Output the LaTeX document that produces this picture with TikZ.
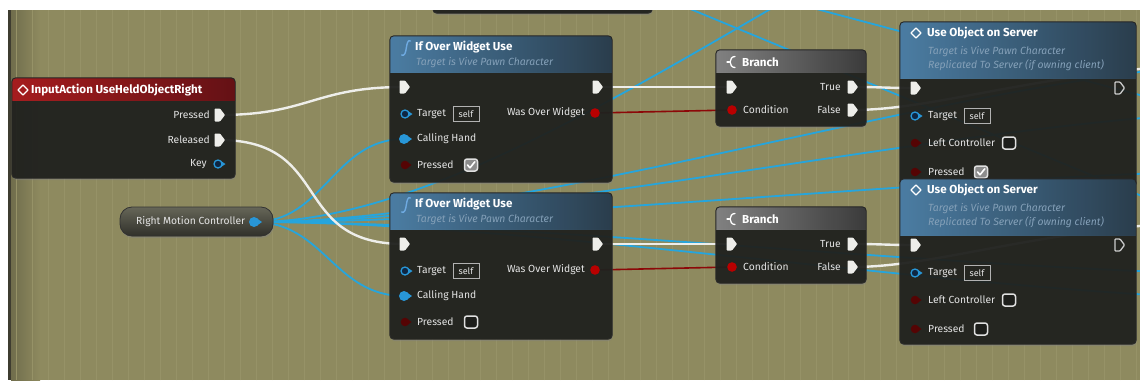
\documentclass[tikz,border=0pt]{standalone}
\usepackage{fontspec}
\setmainfont{Fira Sans}
\usetikzlibrary{calc,shadows}

\definecolor{canvas}{RGB}{142,138,95}
\definecolor{canvasdark}{RGB}{112,109,76}
\definecolor{gridc}{RGB}{150,146,103}
\definecolor{framec}{RGB}{62,60,48}
\definecolor{bodyc}{RGB}{29,30,27}
\definecolor{wireblue}{RGB}{38,165,220}
\definecolor{wirewhite}{RGB}{238,238,234}
\definecolor{wirered}{RGB}{140,8,8}
\definecolor{pinnavy}{RGB}{14,38,66}
\definecolor{pinblue}{RGB}{40,150,215}
\definecolor{boolon}{RGB}{185,0,0}
\definecolor{booloff}{RGB}{85,4,4}
\definecolor{txt}{RGB}{228,228,228}
\definecolor{subtxt}{RGB}{132,160,184}
\definecolor{fnicon}{RGB}{110,170,225}
\definecolor{blueA}{RGB}{78,130,170}
\definecolor{blueB}{RGB}{44,64,80}
\definecolor{greyA}{RGB}{135,135,135}
\definecolor{greyB}{RGB}{62,62,62}
\definecolor{redA}{RGB}{172,30,32}
\definecolor{redB}{RGB}{105,18,22}
\definecolor{pillA}{RGB}{102,102,88}
\definecolor{pillB}{RGB}{48,48,42}

\tikzset{
  bpbody/.style={fill=bodyc, fill opacity=0.92, draw=none, rounded corners=4pt,
    inner sep=0pt, drop shadow={shadow xshift=0.6pt, shadow yshift=-2pt, opacity=0.45}},
  bpedge/.style={draw=black!85, line width=0.9pt, rounded corners=4pt},
  hdrblue/.style={left color=blueA, right color=blueB},
  hdrgrey/.style={left color=greyA, right color=greyB},
  hdrred/.style={left color=redA, right color=redB},
  execwire/.style={draw=wirewhite, line width=2.4pt},
  datawire/.style={draw=wireblue, line width=1.8pt},
  boolwire/.style={draw=wirered, line width=1.6pt},
  lbl/.style={text=txt, font=\fontsize{10.3}{12}\selectfont, inner sep=0pt},
  ttl/.style={text=white, font=\bfseries\fontsize{11.6}{13}\selectfont, inner sep=0pt, anchor=west},
  sub/.style={text=subtxt, font=\itshape\fontsize{10.4}{11}\selectfont, inner sep=0pt, anchor=west},
  selfbox/.style={draw=black!30, line width=0.8pt, text=txt, font=\fontsize{9}{10}\selectfont,
    minimum width=26pt, minimum height=15pt, inner sep=0pt},
  execpin/.pic={\fill[wirewhite, rounded corners=0.8pt] (-4.5,-6.5) -- (1,-6.5) -- (6,0) -- (1,6.5) -- (-4.5,6.5) -- cycle;},
  execopen/.pic={\draw[black!20, line width=1.3pt, rounded corners=0.8pt, line join=round]
    (-4,-6) -- (1,-6) -- (5.5,0) -- (1,6) -- (-4,6) -- cycle;},
  objring/.pic={\fill[pinblue] (3,-3) -- (7.5,0) -- (3,3) -- cycle;
    \draw[pinblue, fill=pinnavy, line width=1.3pt] (0,0) circle (4);},
  objfull/.pic={\fill[pinblue] (3,-3.5) -- (8,0) -- (3,3.5) -- cycle; \fill[pinblue] (0,0) circle (5);},
  boolpinon/.pic={\fill[boolon] (0,0) circle (4.8);},
  boolpinoff/.pic={\fill[booloff] (3,-2.5) -- (6.5,0) -- (3,2.5) -- cycle; \fill[booloff] (0,0) circle (4.3);},
  checkoff/.pic={\draw[black!12, line width=1.5pt, rounded corners=2.5pt, fill=bodyc] (-6.5,-6) rectangle (6.5,6);},
  checkon/.pic={\draw[black!12, line width=1.5pt, rounded corners=2.5pt, fill=black!45] (-6.5,-6) rectangle (6.5,6);
    \draw[white, line width=1.6pt, line cap=round, line join=round] (-3.5,0) -- (-1,2.8) -- (3.8,-3.2);},
  diamondicon/.pic={\draw[white, line width=1.3pt, line join=round] (0,-5) -- (5,0) -- (0,5) -- (-5,0) -- cycle;},
  branchicon/.pic={\draw[white, line width=1.3pt, line cap=round] (4,-5.5) .. controls (-2.5,-5.5) and (-2.5,5.5) .. (4,5.5);
    \draw[white, line width=1.3pt, line cap=round] (-4,0) -- (-1.5,0);},
  functionicon/.pic={\draw[fnicon, line width=1.4pt, line cap=round]
    (4.5,-7) .. controls (2,-8.5) and (1,-5) .. (0.3,0) .. controls (-0.4,5) and (-1.5,8.5) .. (-4.5,7);},
}

% one graph node: name, x1, y1, x2, y2, header bottom, header style
\newcommand\bpbox[7]{%
  \node[bpbody, minimum width={(#4)-(#2)}, minimum height={(#5)-(#3)}] (#1) at ({((#2)+(#4))/2},{((#3)+(#5))/2}) {};
  \begin{scope}
    \clip[rounded corners=4pt] (#1.north west) rectangle (#1.south east);
    \fill[#7, fill opacity=0.96] (#1.north west) rectangle (#4,#6);
  \end{scope}
  \draw[bpedge] (#1.north west) rectangle (#1.south east);
}

\begin{document}
\begin{tikzpicture}[x=1pt,y=-1pt]
\useasboundingbox (0,0) rectangle (1140,381);
\fill[white] (0,0) rectangle (1140,381);
\fill[framec] (8,10) rectangle (11,380);

\begin{scope}
\clip (11,10) rectangle (1140,380);
\fill[canvas] (11,10) rectangle (1140,380);
\shade[left color=canvasdark, right color=canvas] (11,10) rectangle (40,380);
\draw[gridc, line width=0.4pt, step=16] (11,10) grid (1140,380);

% ---- pin positions ----
\coordinate (ia-pressed) at (219,115);
\coordinate (ia-released) at (219,140);
\coordinate (ia-key) at (218,164);
\coordinate (rmc-out) at (254,222);
\foreach \n/\dy in {1/0,2/157}{
  \coordinate (w\n-in) at (404,87+\dy);
  \coordinate (w\n-out) at (597,87+\dy);
  \coordinate (w\n-target) at (405,114+\dy);
  \coordinate (w\n-wow) at (595,113+\dy);
  \coordinate (w\n-hand) at (404,139+\dy);
  \coordinate (w\n-pressed) at (405,165+\dy);
  \coordinate (b\n-in) at (731,87+\dy);
  \coordinate (b\n-cond) at (732,110+\dy);
  \coordinate (b\n-true) at (852,87+\dy);
  \coordinate (b\n-false) at (852,110+\dy);
  \coordinate (u\n-in) at (915,88+\dy);
  \coordinate (u\n-out) at (1119,88+\dy);
  \coordinate (u\n-target) at (915,116+\dy);
  \coordinate (u\n-left) at (915,143+\dy);
  \coordinate (u\n-pressed) at (915,172+\dy);
}
% wire ends on nodes outside the view
\coordinate (off-f1) at (1320,60);
\coordinate (off-f2) at (1320,217);
\coordinate (off-r1) at (1300,60);
\coordinate (off-r2) at (1300,110);
\coordinate (off-r3) at (1300,170);
\coordinate (off-r4) at (1300,275);
\coordinate (off-r5) at (1300,300);
\coordinate (off-up) at (1280,-200);
\coordinate (off-t2a) at (560,-45);
\coordinate (off-t2b) at (1260,245);
\coordinate (off-t3a) at (700,-22);
\coordinate (off-t3b) at (1260,127);

% ---- wires ----
\draw[datawire] (off-t2a) -- (off-t2b);
\draw[datawire] (off-t3a) -- (off-t3b);
\draw[datawire] (rmc-out) .. controls +(300,0) and +(-300,0) .. (off-up);
\foreach \e in {r1,r2,r3,r4,r5}
  \draw[datawire] (rmc-out) .. controls +(300,0) and +(-300,0) .. (off-\e);
\draw[datawire] (rmc-out) .. controls +(70,0) and +(-70,0) .. (w1-hand);
\draw[datawire] (rmc-out) .. controls +(70,0) and +(-70,0) .. (w2-hand);

\draw[execwire] (ia-pressed) .. controls +(90,0) and +(-90,0) .. (w1-in);
\draw[execwire] (ia-released) .. controls +(115,0) and +(-115,0) .. (w2-in);
\foreach \n in {1,2}{
  \draw[execwire] (w\n-out) -- (b\n-in);
  \draw[boolwire] (w\n-wow) -- (b\n-cond);
  \draw[execwire] (b\n-true) .. controls +(30,0) and +(-30,0) .. (u\n-in);
}
\draw[execwire] (b1-false) .. controls +(100,0) and +(-260,0) .. (off-f1);
\draw[execwire] (b2-false) .. controls +(100,0) and +(-260,0) .. (off-f2);

% ---- node partly above the view ----
\bpbox{upper}{433}{-40}{652}{13}{-40}{hdrgrey}

% ---- input action event ----
\bpbox{ia}{12}{78}{235}{178}{100}{hdrred}
\pic at (23,90) {diamondicon};
\node[ttl] (ia-title) at (31,90) {InputAction UseHeldObjectRight};
\pic at (ia-pressed) {execpin};
\pic at (ia-released) {execpin};
\pic at (ia-key) {objring};
\node[lbl, anchor=east] (ia-l1) at (210,115) {Pressed};
\node[lbl, anchor=east] (ia-l2) at (210,140) {Released};
\node[lbl, anchor=east] (ia-l3) at (207,164) {Key};

% ---- variable getter ----
\node[fill=pillB, top color=pillA, bottom color=pillB, draw=black!80, line width=0.8pt,
      rounded corners=12pt, minimum width=153pt, minimum height=29pt, inner sep=0pt,
      drop shadow={shadow xshift=0.6pt, shadow yshift=-2pt, opacity=0.45}]
      (rmc) at (196.5,221.5) {};
\node[lbl, anchor=west] (rmc-label) at (136,222) {Right Motion Controller};
\pic at (rmc-out) {objfull};

% ---- function calls, branches, server events ----
\foreach \n/\dy/\chk in {1/0/checkon,2/157/checkoff}{
  \bpbox{w\n}{390}{36+\dy}{612}{182+\dy}{72+\dy}{hdrblue}
  \pic at (406,48+\dy) {functionicon};
  \node[ttl] (w\n-title) at (415,47+\dy) {If Over Widget Use};
  \node[sub] (w\n-sub) at (416,63+\dy) {Target is Vive Pawn Character};
  \pic at (w\n-in) {execpin};
  \pic at (w\n-out) {execpin};
  \pic at (w\n-target) {objring};
  \pic at (w\n-wow) {boolpinon};
  \pic at (w\n-hand) {objfull};
  \pic at (w\n-pressed) {boolpinoff};
  \node[lbl, anchor=west] (w\n-l1) at (417,114+\dy) {Target};
  \node[selfbox] (w\n-self) at (466,114+\dy) {self};
  \node[lbl, anchor=east] (w\n-l2) at (585,113+\dy) {Was Over Widget};
  \node[lbl, anchor=west] (w\n-l3) at (417,139+\dy) {Calling Hand};
  \node[lbl, anchor=west] (w\n-l4) at (417,165+\dy) {Pressed};
  \pic at (471,165+\dy) {\chk};

  \bpbox{b\n}{716}{50+\dy}{866}{126+\dy}{72+\dy}{hdrgrey}
  \pic at (731,62+\dy) {branchicon};
  \node[ttl] (b\n-title) at (742,62+\dy) {Branch};
  \pic at (b\n-in) {execpin};
  \pic at (b\n-cond) {boolpinon};
  \pic at (b\n-true) {execpin};
  \pic at (b\n-false) {execpin};
  \node[lbl, anchor=west] (b\n-l1) at (743,110+\dy) {Condition};
  \node[lbl, anchor=east] (b\n-l2) at (841,87+\dy) {True};
  \node[lbl, anchor=east] (b\n-l3) at (841,110+\dy) {False};
}

\foreach \n/\dy/\chk in {1/0/checkon,2/157/checkoff}{
  \bpbox{u\n}{900}{22+\dy}{1136}{187+\dy}{78+\dy}{hdrblue}
  \pic at (916,33+\dy) {diamondicon};
  \node[ttl] (u\n-title) at (927,33+\dy) {Use Object on Server};
  \node[sub] (u\n-sub1) at (928,52+\dy) {Target is Vive Pawn Character};
  \node[sub] (u\n-sub2) at (928,65+\dy) {Replicated To Server (if owning client)};
  \pic at (u\n-in) {execpin};
  \pic at (u\n-out) {execopen};
  \pic at (u\n-target) {objring};
  \pic at (u\n-left) {boolpinoff};
  \pic at (u\n-pressed) {boolpinoff};
  \node[lbl, anchor=west] (u\n-l1) at (928,116+\dy) {Target};
  \node[selfbox] (u\n-self) at (977,116+\dy) {self};
  \node[lbl, anchor=west] (u\n-l2) at (928,143+\dy) {Left Controller};
  \pic at (1009,143+\dy) {checkoff};
  \node[lbl, anchor=west] (u\n-l3) at (928,172+\dy) {Pressed};
  \pic at (981,172+\dy) {\chk};
}
\end{scope}
\end{tikzpicture}
\end{document}
